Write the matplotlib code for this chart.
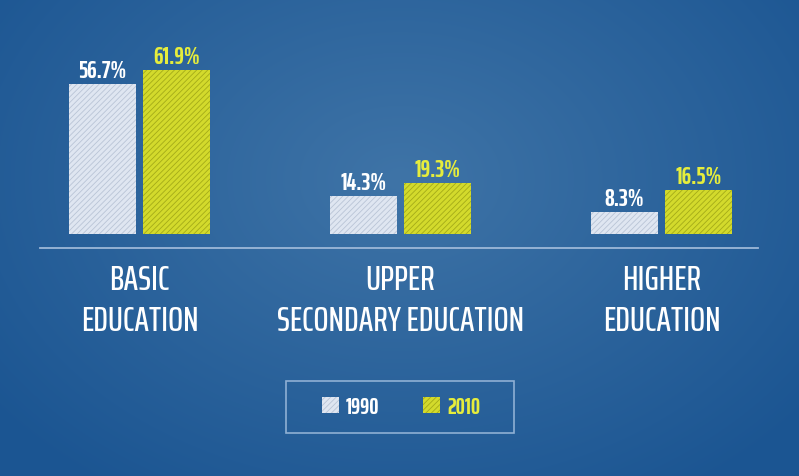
import matplotlib.pyplot as plt
import matplotlib.patches as mpatches
import numpy as np

categories = ['BASIC\nEDUCATION', 'UPPER\nSECONDARY EDUCATION', 'HIGHER\nEDUCATION']
years = ['1990', '2010']
v1990 = [56.7, 14.3, 8.3]
v2010 = [61.9, 19.3, 16.5]

fnt = ['Saira ExtraCondensed', 'Bebas Neue', 'DejaVu Sans']
c1990 = '#dfe6f1'
c2010 = '#d3da2c'
plt.rcParams['hatch.linewidth'] = 0.6

fig = plt.figure(figsize=(7.99, 4.77), dpi=100)

# radial background
bg = fig.add_axes([0, 0, 1, 1])
yy, xx = np.mgrid[0:477, 0:799]
r = np.sqrt(((xx - 400) / 520.0) ** 2 + ((yy - 180) / 380.0) ** 2)
r = np.clip(r, 0, 1)[..., None]
inner = np.array([0x3f, 0x74, 0xa7]) / 255
outer = np.array([0x1b, 0x55, 0x92]) / 255
bg.imshow(inner * (1 - r) + outer * r, aspect='auto', extent=[0, 799, 477, 0])
bg.set_xlim(0, 799)
bg.set_ylim(477, 0)
bg.axis('off')
bg.plot([40, 758], [248.5, 248.5], color='#9db8d8', lw=1.3)
# legend box
bg.add_patch(mpatches.Rectangle((286, 382), 228, 52, fill=False, ec='#8fb0d4', lw=1.2))

# bars
ax = fig.add_axes([0, (477 - 235) / 477, 1, 235 / 477])
ax.patch.set_alpha(0)
x = np.arange(len(categories))
w = 67 / 261
off = 37 / 261
b1 = ax.bar(x - off, v1990, w, color=c1990, edgecolor='#b9c4d6', lw=0, hatch='//////')
b2 = ax.bar(x + off, v2010, w, color=c2010, edgecolor='#a3aa18', lw=0, hatch='//////')
ax.set_xlim(-139.5 / 261, (799 - 139.5) / 261)
ax.set_ylim(0, 235 / 2.645)
ax.axis('off')

for xi, v in zip(x - off, v1990):
    ax.text(xi, v + 2.6, '%.1f%%' % v, ha='center', va='baseline', color='white',
            fontsize=17.5, fontweight='bold', family=fnt)
for xi, v in zip(x + off, v2010):
    ax.text(xi, v + 2.6, '%.1f%%' % v, ha='center', va='baseline', color='#e6ed3c',
            fontsize=17.5, fontweight='bold', family=fnt)

for xi, c in zip(x, categories):
    ax.text(xi, -11, c, ha='center', va='top', color='white', fontsize=25.5,
            fontweight='medium', linespacing=1.31, family=fnt)

leg = fig.legend([b1, b2], years, loc='center', bbox_to_anchor=(401 / 799, 1 - 408 / 477),
                 ncol=2, frameon=False, prop={'family': fnt, 'size': 16.5, 'weight': 'bold'},
                 handlelength=0.75, handleheight=0.75, handletextpad=0.3, columnspacing=1.9,
                 borderpad=0, borderaxespad=0)
for t, c in zip(leg.get_texts(), ['white', '#e6ed3c']):
    t.set_color(c)

fig.savefig('out.png', dpi=100)
